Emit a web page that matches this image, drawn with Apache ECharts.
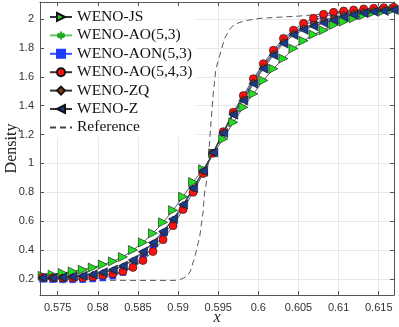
<!DOCTYPE html>
<html><head><meta charset="utf-8">
<script src="https://cdn.jsdelivr.net/npm/echarts@6/dist/echarts.min.js"></script>
<style>html,body{margin:0;padding:0;background:#fff}#c{width:399px;height:327px}</style>
</head><body><div id="c"></div>
<script>
const xs = [0.573125,0.574375,0.575625,0.576875,0.578125,0.579375,0.580625,0.581875,0.583125,0.584375,0.585625,0.586875,0.588125,0.589375,0.590625,0.591875,0.593125,0.594375,0.595625,0.596875,0.598125,0.599375,0.600625,0.601875,0.603125,0.604375,0.605625,0.606875,0.608125,0.609375,0.610625,0.611875,0.613125,0.614375,0.615625,0.616875];
const wenoJS = [0.222,0.230,0.241,0.252,0.264,0.279,0.300,0.322,0.352,0.400,0.453,0.516,0.592,0.676,0.770,0.871,0.960,1.070,1.169,1.285,1.389,1.482,1.575,1.656,1.726,1.796,1.850,1.893,1.923,1.958,1.982,2.005,2.028,2.047,2.056,2.068];
const wenoAO53 = [0.200,0.198,0.197,0.197,0.198,0.203,0.211,0.225,0.250,0.290,0.350,0.420,0.502,0.594,0.703,0.822,0.942,1.075,1.213,1.347,1.456,1.570,1.675,1.767,1.848,1.906,1.951,1.986,2.014,2.032,2.044,2.052,2.060,2.066,2.071,2.074];
const wenoAON53 = [0.198,0.196,0.195,0.195,0.196,0.200,0.207,0.220,0.245,0.285,0.345,0.415,0.497,0.590,0.700,0.820,0.940,1.075,1.215,1.350,1.460,1.575,1.680,1.772,1.853,1.910,1.955,1.990,2.018,2.035,2.046,2.054,2.062,2.068,2.073,2.076];
const wenoAO543 = [0.212,0.208,0.206,0.206,0.208,0.214,0.226,0.236,0.252,0.280,0.328,0.390,0.472,0.569,0.681,0.800,0.930,1.070,1.220,1.355,1.470,1.587,1.691,1.784,1.866,1.923,1.970,2.005,2.033,2.047,2.056,2.063,2.070,2.075,2.079,2.081];
const wenoZQ = [0.207,0.207,0.209,0.213,0.219,0.229,0.242,0.260,0.287,0.326,0.383,0.446,0.523,0.610,0.712,0.828,0.946,1.076,1.213,1.343,1.445,1.562,1.667,1.760,1.842,1.900,1.938,1.965,1.990,2.010,2.030,2.040,2.052,2.060,2.066,2.071];
const wenoZ = [0.209,0.209,0.212,0.216,0.223,0.233,0.247,0.265,0.292,0.332,0.390,0.453,0.530,0.616,0.716,0.830,0.948,1.076,1.210,1.338,1.436,1.552,1.656,1.749,1.831,1.889,1.925,1.950,1.972,1.993,2.015,2.028,2.040,2.050,2.056,2.063];
const refX = [0.5728,0.580,0.585,0.5895,0.5902,0.5910,0.5915,0.5921,0.5927,0.5931,0.5933,0.5936,0.5938,0.5941,0.5944,0.5947,0.5952,0.5958,0.5965,0.5971,0.5983,0.6002,0.6052,0.6089,0.6135,0.6169];
const refY = [0.193,0.191,0.190,0.190,0.195,0.215,0.250,0.355,0.495,0.658,0.797,0.890,1.050,1.285,1.494,1.650,1.750,1.866,1.935,1.965,1.988,2.005,2.021,2.040,2.056,2.070];
const xTicks = [0.575,0.58,0.585,0.59,0.595,0.6,0.605,0.61,0.615];
const yTicks = [0.2,0.4,0.6,0.8,1,1.2,1.4,1.6,1.8,2];
const names = ['WENO-JS','WENO-AO(5,3)','WENO-AON(5,3)','WENO-AO(5,4,3)','WENO-ZQ','WENO-Z','Reference'];

const pair = (a, b) => a.map((v, i) => [v, b[i]]);
const fmt = v => String(+(+v).toFixed(3));
const serif = '"Liberation Serif", "DejaVu Serif", serif';
const sans = '"Liberation Sans", Arial, sans-serif';

function mk(name, vals, symbol, size, fill, border, lineColor, lw) {
  return {
    name, type: 'line', data: pair(xs, vals), symbol, symbolSize: size,
    showAllSymbol: true,
    lineStyle: { color: lineColor, width: lw },
    itemStyle: { color: fill, borderColor: border, borderWidth: 0.6 },
    emphasis: { disabled: true }, animation: false
  };
}

const axisCommon = {
  axisLine: { show: true, lineStyle: { color: '#555', width: 1 } },
  axisTick: { show: true, inside: true, length: 4, lineStyle: { color: '#555' } },
  splitLine: { show: true, lineStyle: { color: '#e8e8e8', width: 1 } },
  axisLabel: { color: '#333', fontFamily: sans, fontSize: 11, formatter: fmt }
};

const chart = echarts.init(document.getElementById('c'), null, { renderer: 'canvas' });
chart.setOption({
  animation: false,
  backgroundColor: '#fff',
  grid: { left: 40, right: 5, top: 2, bottom: 32, show: false, containLabel: false, outerBoundsMode: 'none' },
  xAxis: [{
    type: 'value', min: 0.5728, max: 0.6169, position: 'bottom',
    name: 'x', nameLocation: 'middle', nameGap: 15, nameMoveOverlap: false,
    nameTextStyle: { fontFamily: serif, fontStyle: 'italic', fontSize: 16, color: '#222' },
    ...axisCommon,
    axisTick: { ...axisCommon.axisTick, customValues: xTicks },
    axisLabel: { ...axisCommon.axisLabel, customValues: xTicks, margin: 7 }
  }, {
    type: 'value', min: 0.5728, max: 0.6169, position: 'top',
    axisLine: { show: true, lineStyle: { color: '#555' } },
    axisTick: { show: true, inside: true, length: 4, lineStyle: { color: '#555' }, customValues: xTicks },
    axisLabel: { show: false, customValues: xTicks }, splitLine: { show: false }
  }],
  yAxis: [{
    type: 'value', min: 0.089, max: 2.118, position: 'left',
    name: 'Density', nameLocation: 'middle', nameGap: 20, nameRotate: 90, nameMoveOverlap: false,
    nameTextStyle: { fontFamily: serif, fontSize: 16, color: '#222' },
    ...axisCommon,
    axisTick: { ...axisCommon.axisTick, customValues: yTicks },
    axisLabel: { ...axisCommon.axisLabel, customValues: yTicks, margin: 6 }
  }, {
    type: 'value', min: 0.089, max: 2.118, position: 'right',
    axisLine: { show: true, lineStyle: { color: '#555' } },
    axisTick: { show: true, inside: true, length: 4, lineStyle: { color: '#555' }, customValues: yTicks },
    axisLabel: { show: false, customValues: yTicks }, splitLine: { show: false }
  }],
  legend: {
    data: names.slice(0, 6).concat([{ name: 'Reference', itemStyle: { opacity: 0 } }]),
    orient: 'vertical', left: 45, top: 7,
    backgroundColor: '#fff', padding: [2, 4, 2, 4],
    itemWidth: 22, itemHeight: 10, itemGap: 2.4,
    textStyle: { fontFamily: serif, fontSize: 15.5, color: '#111' }
  },
  series: [
    mk(names[0], wenoJS, 'path://M0,0L10,5L0,10Z', 9, '#22dd22', '#111', '#333', 0.8),
    { ...mk(names[1], wenoAO53, 'path://M5,0L5,10M0.7,2.5L9.3,7.5M0.7,7.5L9.3,2.5M0,5L10,5', 6, 'rgba(0,0,0,0)', '#3a3', '#66c266', 0.8),
      itemStyle: { color: 'rgba(0,0,0,0)', borderColor: '#2a2', borderWidth: 0.9 } },
    mk(names[2], wenoAON53, 'rect', 6, '#1f3cff', '#1f3cff', '#3050ff', 0.8),
    mk(names[3], wenoAO543, 'circle', 8, '#ff1010', '#111', '#333', 0.8),
    mk(names[4], wenoZQ, 'diamond', 7, '#8a3a0a', '#111', '#333', 0.8),
    mk(names[5], wenoZ, 'path://M10,0L0,5L10,10Z', 9, '#1a3a8a', '#111', '#333', 0.8),
    {
      name: names[6], type: 'line', data: pair(refX, refY), symbol: 'none',
      lineStyle: { color: '#444', width: 0.9, type: [6, 4] },
      itemStyle: { color: '#444' }, emphasis: { disabled: true }
    }
  ]
});
</script></body></html>
